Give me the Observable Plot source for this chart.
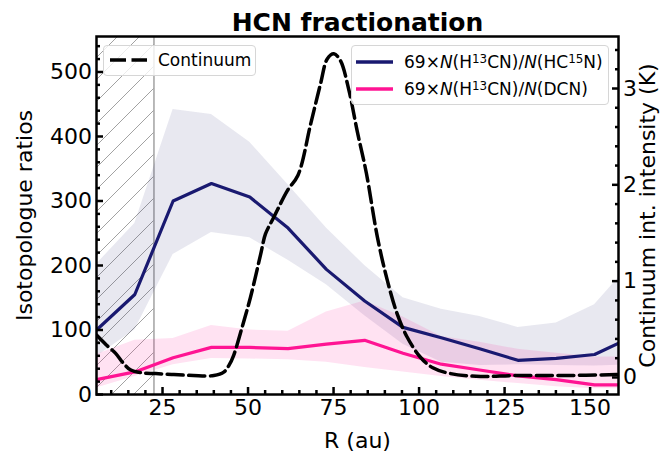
<!DOCTYPE html>
<html><head><meta charset="utf-8">
<script src="https://cdn.jsdelivr.net/npm/d3@7"></script>
<script src="https://cdn.jsdelivr.net/npm/@observablehq/plot@0.6"></script>
<style>
body{margin:0;background:#fff;font-family:"DejaVu Sans",sans-serif;}
#wrap{position:relative;width:664px;height:454px;overflow:hidden;}
.leg{position:absolute;background:rgba(255,255,255,0.8);border:1px solid #d6d6d6;border-radius:4px;box-sizing:border-box;font-size:17px;color:#000;}
.row{position:absolute;left:6px;display:flex;align-items:center;white-space:nowrap;height:20px;}
.row svg{margin-right:11px;}
sup{font-size:0.7em;vertical-align:0.45em;line-height:0;}
</style></head><body><div id="wrap"></div>
<script>
// ---- data ----
const R = [5.7, 16.9, 28.1, 39.3, 50.5, 61.7, 72.9, 84.1, 95.3, 106.5, 117.7, 128.9, 140.1, 151.3, 162.5];
const hc15n     = [100, 155, 300, 327, 306, 258, 194, 145, 104, 88, 71, 53, 56, 62, 90];
const hc15nLow  = [59, 100, 217, 251, 243, 208, 170, 122, 78, 50, 45, 46, 45, 44, 46];
const hc15nHigh = [202, 265, 442, 434, 391, 325, 258, 200, 150, 132, 121, 104, 111, 139, 206];
const dcn       = [23, 35, 57, 73, 73, 71, 78, 84, 64, 47, 38, 29, 23, 15, 15];
const dcnLow    = [10, 28, 46, 56, 55, 54, 50, 42, 35, 28, 22, 17, 12, 9, 9];
const dcnHigh   = [62, 84, 87, 107, 100, 98, 128, 145, 120, 90, 81, 70, 64, 58, 58];
const contR = [5.7, 8.5, 11.3, 13.5, 15.6, 18.6, 23, 28.3, 34, 40, 42.9, 44.5, 45.8, 48.5, 50.7, 53.7, 55.1, 57.5, 61.5, 64.6, 68.3, 71.2, 73.2, 75.1, 77, 79.5, 81.9, 84.6, 87.8, 90.7, 93.6, 96.5, 100.4, 104, 109.2, 118, 127.7, 142, 158.3];
const contK = [0.44, 0.34, 0.25, 0.15, 0.08, 0.05, 0.04, 0.03, 0.02, 0.02, 0.055, 0.13, 0.23, 0.55, 0.83, 1.28, 1.49, 1.66, 1.94, 2.1, 2.63, 3.05, 3.31, 3.36, 3.29, 2.98, 2.56, 2.12, 1.46, 1.01, 0.66, 0.42, 0.21, 0.10, 0.04, 0.01, 0.02, 0.02, 0.03];
const xDomain = [5.7, 158.3];
const yMax = 555;
const kRange = [-0.177, 3.54];
const hatchEdge = 22.5;
const xMajor = [25, 50, 75, 100, 125, 150];
const xMinor = d3.range(10, 158, 5).filter(v => v % 25 !== 0);
const yMajor = [0, 100, 200, 300, 400, 500];
const yMinor = d3.range(20, 555, 20).filter(v => v % 100 !== 0);
const kMajor = [0, 1, 2, 3];
const kMinor = [0.2,0.4,0.6,0.8,1.2,1.4,1.6,1.8,2.2,2.4,2.6,2.8,3.2,3.4];
const titleText = "HCN fractionation";
const xLabel = "R (au)";
const yLabel = "Isotopologue ratios";
const y2Label = "Continuum int. intensity (K)";

// ---- build ----
const toLeft = k => (k - kRange[0]) / (kRange[1] - kRange[0]) * yMax;
const fromLeft = v => v / yMax * (kRange[1] - kRange[0]) + kRange[0];
const rows = R.map((r, i) => ({r, b: hc15n[i], bl: hc15nLow[i], bh: hc15nHigh[i], p: dcn[i], pl: dcnLow[i], ph: dcnHigh[i]}));
const cont = contR.map((r, i) => ({r, v: toLeft(contK[i])}));
const navy = "#191970", pink = "#ff1493";
const tk = {strokeWidth: 2.5, label: null};
const lab = {textAnchor: "middle", lineAnchor: "middle"};

const plot = Plot.plot({
  width: 664, height: 454,
  marginTop: 36, marginBottom: 60, marginLeft: 96, marginRight: 46,
  x: {domain: xDomain},
  y: {domain: [0, yMax]},
  style: {fontFamily: '"DejaVu Sans", sans-serif', color: "#000", background: "#fff", overflow: "visible"},
  marks: [
    Plot.rect([hatchEdge], {x1: xDomain[0], x2: d => d, y1: 0, y2: yMax, fill: "url(#hatch)"}),
    Plot.ruleX([hatchEdge], {stroke: "#8a8a8a", strokeWidth: 1.2}),
    Plot.areaY(rows, {x: "r", y1: "bl", y2: "bh", fill: navy, fillOpacity: 0.1, clip: true}),
    Plot.areaY(rows, {x: "r", y1: "pl", y2: "ph", fill: pink, fillOpacity: 0.12, clip: true}),
    Plot.line(rows, {x: "r", y: "b", stroke: navy, strokeWidth: 3.2, clip: true}),
    Plot.line(rows, {x: "r", y: "p", stroke: pink, strokeWidth: 3.2, clip: true}),
    Plot.line(cont, {x: "r", y: "v", stroke: "#000", strokeWidth: 3.5, strokeDasharray: "16,5.5", curve: "catmull-rom", clip: true}),
    Plot.frame({stroke: "#000", strokeWidth: 2.5}),
    Plot.axisX({...tk, ticks: xMajor, tickSize: -7, tickPadding: 11.5, fontSize: 22, tickFormat: d => String(d)}),
    Plot.axisX({...tk, ticks: xMinor, tickSize: -4, tickFormat: () => ""}),
    Plot.axisY({...tk, ticks: yMajor, tickSize: -7, tickPadding: 11.5, fontSize: 22, tickFormat: d => String(d)}),
    Plot.axisY({...tk, ticks: yMinor, tickSize: -4, tickFormat: () => ""}),
    Plot.axisY({...tk, anchor: "right", ticks: kMajor.map(toLeft), tickSize: -7, tickPadding: 11.5, fontSize: 22, tickFormat: d => String(Math.round(fromLeft(d)))}),
    Plot.axisY({...tk, anchor: "right", ticks: kMinor.map(toLeft), tickSize: -4, tickFormat: () => ""}),
    Plot.text([titleText], {...lab, frameAnchor: "top", dy: -14, fontSize: 25, fontWeight: "bold"}),
    Plot.text([xLabel], {...lab, frameAnchor: "bottom", dy: 46, fontSize: 22}),
    Plot.text([yLabel], {...lab, frameAnchor: "left", dx: -72, rotate: -90, fontSize: 22}),
    Plot.text([y2Label], {...lab, frameAnchor: "right", dx: 29, rotate: -90, fontSize: 22})
  ]
});

const ns = "http://www.w3.org/2000/svg";
const defs = document.createElementNS(ns, "defs");
defs.innerHTML = '<pattern id="hatch" patternUnits="userSpaceOnUse" width="22" height="22"><path d="M-6,6L6,-6M0,22L22,0M16,28L28,16" stroke="#8a8a8a" stroke-width="0.8" fill="none"/></pattern>';
plot.insertBefore(defs, plot.firstChild);

const wrap = document.getElementById("wrap");
wrap.appendChild(plot);

function sw(color, dash) {
  return `<svg width="37" height="6" viewBox="0 0 37 6"><line x1="0" y1="3" x2="37" y2="3" stroke="${color}" stroke-width="3.5" ${dash ? 'stroke-dasharray="16,5.5"' : ''}/></svg>`;
}
const leg1 = document.createElement("div");
leg1.className = "leg";
leg1.style.cssText = "left:103px;top:45px;width:153px;height:31px;";
leg1.innerHTML = `<div class="row" style="top:4px">${sw("#000", true)}<span>Continuum</span></div>`;
wrap.appendChild(leg1);

const leg2 = document.createElement("div");
leg2.className = "leg";
leg2.style.cssText = "left:351px;top:45px;width:258px;height:60px;";
leg2.innerHTML =
  `<div class="row" style="top:6px;left:4px">${sw(navy)}<span>69×<i>N</i>(H<sup>13</sup>CN)/<i>N</i>(HC<sup>15</sup>N)</span></div>` +
  `<div class="row" style="top:33px;left:4px">${sw(pink)}<span>69×<i>N</i>(H<sup>13</sup>CN)/<i>N</i>(DCN)</span></div>`;
wrap.appendChild(leg2);
</script></body></html>
